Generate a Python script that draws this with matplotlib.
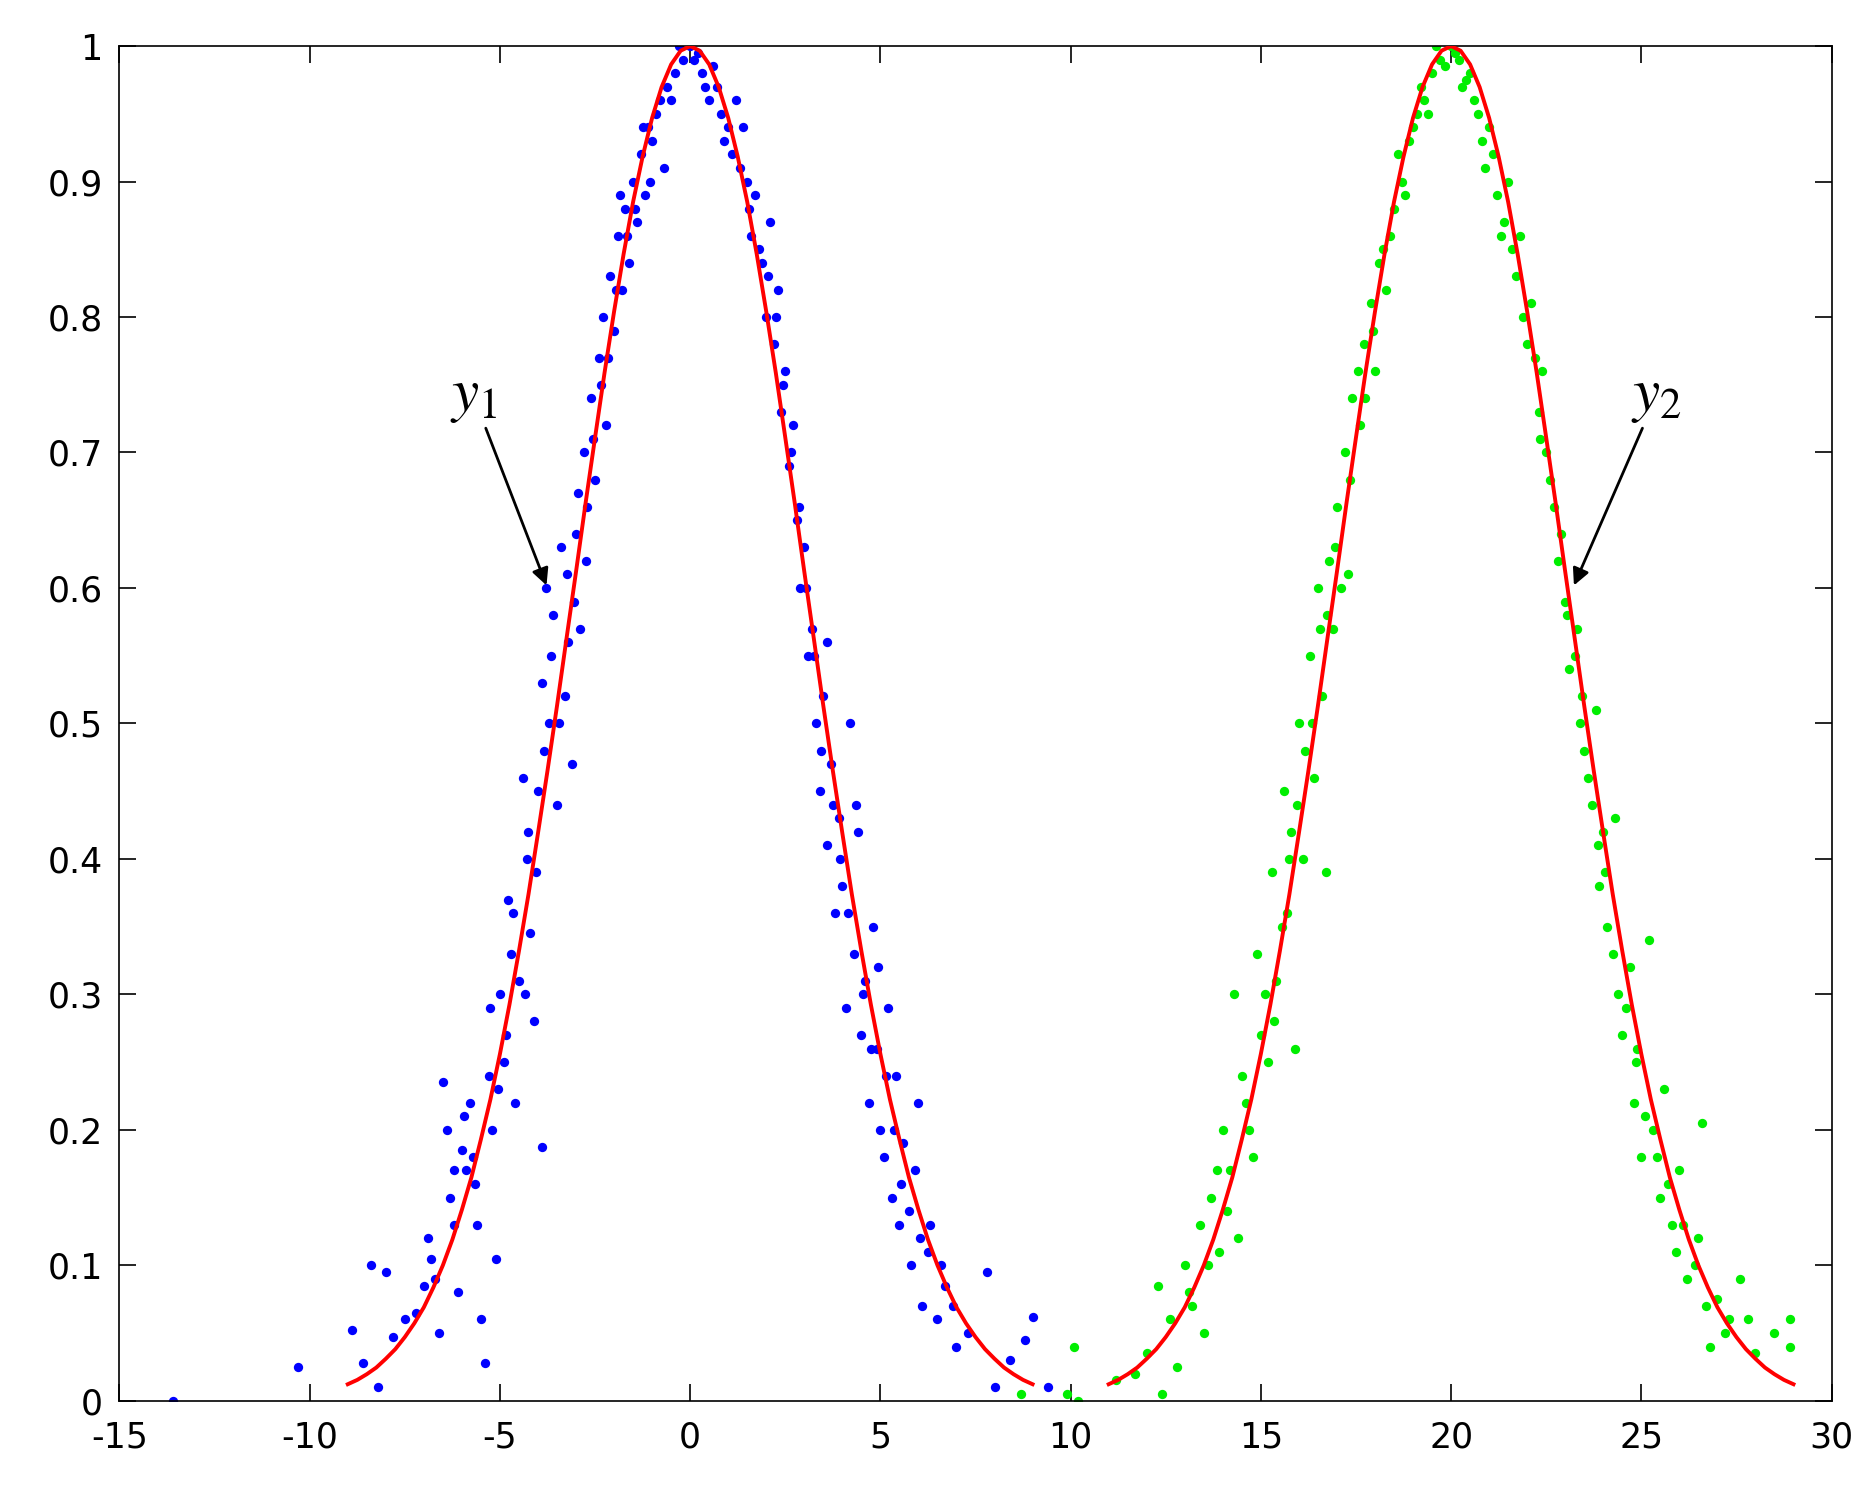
import matplotlib
matplotlib.use("Agg")
import matplotlib.pyplot as plt

# fitted curve values (half, x offset from centre 0..9 step 0.25)
curve_dx = [0, 0.25, 0.5, 0.75, 1, 1.25, 1.5, 1.75, 2, 2.25, 2.5, 2.75, 3, 3.25, 3.5, 3.75, 4, 4.25,
            4.5, 4.75, 5, 5.25, 5.5, 5.75, 6, 6.25, 6.5, 6.75, 7, 7.25, 7.5, 7.75, 8, 8.25, 8.5, 8.75, 9]
curve_y = [1, 0.9966, 0.9865, 0.9698, 0.947, 0.9184, 0.885, 0.8464, 0.804, 0.759, 0.711, 0.6624,
           0.612, 0.5627, 0.513, 0.4651, 0.419, 0.3738, 0.332, 0.2924, 0.256, 0.2225, 0.193, 0.1649,
           0.141, 0.119, 0.100, 0.0836, 0.069, 0.0572, 0.047, 0.0381, 0.031, 0.0245, 0.0196, 0.0154, 0.0122]
centers = [0, 20]

blue_pts = [(-13.6,0.0),(-10.3,0.025),(-8.9,0.052),(-8.6,0.028),(-8.4,0.1),(-8.2,0.01),(-8.0,0.095),(-7.8,0.047),(-7.5,0.06),(-7.2,0.065),(-7.0,0.085),(-6.9,0.12),(-6.8,0.105),(-6.6,0.05),(-6.5,0.235),(-6.4,0.2),(-6.3,0.15),(-6.2,0.13),(-6.1,0.08),(-6.0,0.185),(-5.9,0.17),(-5.8,0.22),(-5.7,0.18),(-5.6,0.13),(-5.5,0.06),(-5.4,0.028),(-5.3,0.24),(-5.2,0.2),(-5.1,0.105),(-5.0,0.3),(-4.9,0.25),(-4.8,0.37),(-4.7,0.33),(-4.6,0.22),(-4.5,0.31),(-4.4,0.46),(-4.3,0.4),(-4.2,0.345),(-4.1,0.28),(-4.0,0.45),(-3.9,0.187),(-3.9,0.53),(-3.8,0.6),(-3.7,0.5),(-3.6,0.58),(-3.5,0.44),(-3.4,0.63),(-3.3,0.52),(-3.2,0.56),(-3.1,0.47),(-3.0,0.64),(-2.9,0.57),(-2.8,0.7),(-2.7,0.66),(-2.6,0.74),(-2.5,0.68),(-2.4,0.77),(-2.3,0.8),(-2.2,0.72),(-2.1,0.83),(-2.0,0.79),(-1.9,0.86),(-1.8,0.82),(-1.7,0.88),(-1.6,0.84),(-1.5,0.9),(-1.4,0.87),(-1.3,0.92),(-1.2,0.89),(-1.1,0.94),(-1.0,0.93),(-0.8,0.96),(-0.7,0.91),(-0.6,0.97),(-0.4,0.98),(-0.2,0.99),(0.0,1.0),(0.2,0.995),(0.4,0.97),(0.6,0.985),(0.8,0.95),(1.0,0.94),(1.2,0.96),(1.3,0.91),(1.5,0.9),(1.6,0.86),(1.7,0.89),(1.9,0.84),(2.0,0.8),(2.1,0.87),(2.2,0.78),(2.3,0.82),(2.4,0.73),(2.5,0.76),(2.6,0.69),(2.7,0.72),(2.8,0.65),(2.9,0.6),(3.0,0.63),(3.1,0.55),(3.2,0.57),(3.3,0.5),(3.4,0.45),(3.5,0.52),(3.6,0.41),(3.7,0.47),(3.8,0.36),(3.9,0.43),(4.0,0.38),(4.1,0.29),(4.2,0.5),(4.3,0.33),(4.4,0.42),(4.5,0.27),(4.6,0.31),(4.7,0.22),(4.8,0.35),(4.9,0.26),(5.0,0.2),(5.1,0.18),(5.2,0.29),(5.3,0.15),(5.4,0.24),(5.5,0.13),(5.6,0.19),(5.8,0.1),(5.9,0.17),(6.0,0.22),(6.1,0.07),(6.3,0.13),(6.5,0.06),(6.7,0.085),(7.0,0.04),(7.3,0.05),(7.8,0.095),(8.0,0.01),(8.4,0.03),(8.8,0.045),(9.0,0.062),(9.4,0.01),
    (-6.7,0.09),(-6.2,0.17),(-5.95,0.21),(-5.65,0.16),(-5.25,0.29),(-5.05,0.23),(-4.85,0.27),(-4.65,0.36),(-4.35,0.3),(-4.25,0.42),(-4.05,0.39),(-3.85,0.48),(-3.65,0.55),(-3.45,0.5),(-3.25,0.61),(-3.05,0.59),(-2.95,0.67),(-2.75,0.62),(-2.55,0.71),(-2.35,0.75),(-2.15,0.77),(-1.95,0.82),(-1.85,0.89),(-1.65,0.86),(-1.45,0.88),(-1.25,0.94),(-1.05,0.9),(-0.9,0.95),(-0.5,0.96),(-0.3,1.0),(0.1,0.99),(0.3,0.98),(0.5,0.96),(0.7,0.97),(0.9,0.93),(1.1,0.92),(1.4,0.94),(1.55,0.88),(1.8,0.85),(2.05,0.83),(2.25,0.8),(2.45,0.75),(2.65,0.7),(2.85,0.66),(3.05,0.6),(3.25,0.55),(3.45,0.48),(3.6,0.56),(3.75,0.44),(3.95,0.4),(4.15,0.36),(4.35,0.44),(4.55,0.3),(4.75,0.26),(4.95,0.32),(5.15,0.24),(5.35,0.2),(5.55,0.16),(5.75,0.14),(6.05,0.12),(6.25,0.11),(6.6,0.1),(6.9,0.07)]

green_pts = [(8.7,0.005),(9.9,0.005),(10.1,0.04),(10.2,0.0),(11.2,0.015),(11.7,0.02),(12.0,0.035),(12.3,0.085),(12.4,0.005),(12.6,0.06),(12.8,0.025),(13.0,0.1),(13.2,0.07),(13.4,0.13),(13.5,0.05),(13.7,0.15),(13.9,0.11),(14.0,0.2),(14.2,0.17),(14.3,0.3),(14.4,0.12),(14.6,0.22),(14.8,0.18),(14.9,0.33),(15.0,0.27),(15.2,0.25),(15.3,0.39),(15.4,0.31),(15.6,0.45),(15.7,0.36),(15.8,0.42),(15.9,0.26),(16.0,0.5),(16.1,0.4),(16.3,0.55),(16.4,0.46),(16.5,0.6),(16.6,0.52),(16.7,0.39),(16.8,0.62),(16.9,0.57),(17.0,0.66),(17.2,0.7),(17.3,0.61),(17.4,0.74),(17.6,0.72),(17.7,0.78),(17.9,0.81),(18.0,0.76),(18.2,0.85),(18.3,0.82),(18.5,0.88),(18.7,0.9),(18.9,0.93),(19.1,0.95),(19.3,0.96),(19.5,0.98),(19.7,0.99),(20.0,1.0),(20.2,0.99),(20.4,0.975),(20.6,0.96),(20.8,0.93),(21.0,0.94),(21.2,0.89),(21.4,0.87),(21.5,0.9),(21.7,0.83),(21.8,0.86),(22.0,0.78),(22.1,0.81),(22.3,0.73),(22.4,0.76),(22.5,0.7),(22.7,0.66),(22.8,0.62),(23.0,0.59),(23.1,0.54),(23.3,0.57),(23.4,0.5),(23.5,0.48),(23.7,0.44),(23.8,0.51),(23.9,0.38),(24.0,0.42),(24.1,0.35),(24.3,0.43),(24.4,0.3),(24.5,0.27),(24.7,0.32),(24.8,0.22),(24.9,0.26),(25.0,0.18),(25.2,0.34),(25.3,0.2),(25.5,0.15),(25.6,0.23),(25.8,0.13),(25.9,0.11),(26.0,0.17),(26.2,0.09),(26.5,0.12),(26.6,0.205),(26.8,0.04),(27.0,0.075),(27.3,0.06),(27.6,0.09),(28.0,0.035),(28.5,0.05),(28.9,0.06),(28.9,0.04),
    (13.1,0.08),(13.6,0.1),(13.85,0.17),(14.1,0.14),(14.5,0.24),(14.7,0.2),(15.1,0.3),(15.35,0.28),(15.55,0.35),(15.75,0.4),(15.95,0.44),(16.15,0.48),(16.35,0.5),(16.55,0.57),(16.75,0.58),(16.95,0.63),(17.1,0.6),(17.35,0.68),(17.55,0.76),(17.75,0.74),(17.95,0.79),(18.1,0.84),(18.4,0.86),(18.6,0.92),(18.8,0.89),(19.0,0.94),(19.2,0.97),(19.4,0.95),(19.6,1.0),(19.85,0.985),(20.1,0.995),(20.3,0.97),(20.5,0.98),(20.7,0.95),(20.9,0.91),(21.1,0.92),(21.3,0.86),(21.6,0.85),(21.9,0.8),(22.2,0.77),(22.35,0.71),(22.6,0.68),(22.9,0.64),(23.05,0.58),(23.25,0.55),(23.45,0.52),(23.6,0.46),(23.85,0.41),(24.05,0.39),(24.25,0.33),(24.6,0.29),(24.85,0.25),(25.1,0.21),(25.4,0.18),(25.7,0.16),(26.1,0.13),(26.4,0.1),(26.7,0.07),(27.2,0.05),(27.8,0.06)]

x_ticks = [-15, -10, -5, 0, 5, 10, 15, 20, 25, 30]
y_ticks = [0, 0.1, 0.2, 0.3, 0.4, 0.5, 0.6, 0.7, 0.8, 0.9, 1]
y_labels = ['0', '0.1', '0.2', '0.3', '0.4', '0.5', '0.6', '0.7', '0.8', '0.9', '1']

plt.rcParams['mathtext.fontset'] = 'stix'
plt.rcParams['axes.unicode_minus'] = False
fig = plt.figure(figsize=(18.67, 14.87), dpi=100)
ax = fig.add_axes([0.064, 0.058, 0.917, 0.911])

for pts, col in [(blue_pts, '#0000ff'), (green_pts, '#00ee00')]:
    ax.scatter([p[0] for p in pts], [p[1] for p in pts], s=45, color=col, zorder=2, linewidths=0)

for c in centers:
    xs = [c - d for d in curve_dx[::-1]] + [c + d for d in curve_dx[1:]]
    ys = curve_y[::-1] + curve_y[1:]
    ax.plot(xs, ys, color='red', lw=2.8, zorder=3)

ax.annotate('$y_1$', xy=(-3.75, 0.6), xytext=(-5.7, 0.72), fontsize=44,
            ha='center', va='bottom',
            arrowprops=dict(arrowstyle='-|>', color='black', lw=2, mutation_scale=25,
                            shrinkA=0))
ax.annotate('$y_2$', xy=(23.2, 0.6), xytext=(25.4, 0.72), fontsize=44,
            ha='center', va='bottom',
            arrowprops=dict(arrowstyle='-|>', color='black', lw=2, mutation_scale=25,
                            shrinkA=0))

ax.set_xlim(-15, 30)
ax.set_ylim(0, 1)
ax.set_xticks(x_ticks)
ax.set_yticks(y_ticks)
ax.set_yticklabels(y_labels)
ax.tick_params(direction='in', top=True, right=True, labelsize=25, length=12, width=1.2)
ax.tick_params(axis='x', pad=14)
ax.tick_params(axis='y', pad=12)
for s in ax.spines.values():
    s.set_linewidth(1.2)

fig.savefig('out.png', dpi=100)
